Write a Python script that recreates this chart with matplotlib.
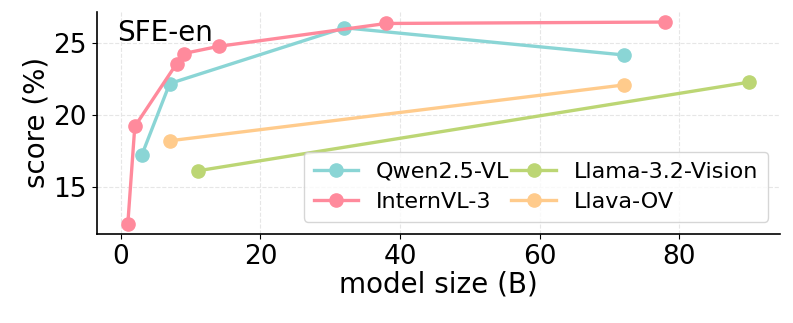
import matplotlib
matplotlib.use('Agg')
import matplotlib.pyplot as plt

# model sizes (B) and SFE-en scores (%)
qwen_size = [3, 7, 32, 72]
qwen_score = [17.2, 22.2, 26.1, 24.2]

intern_size = [1, 2, 8, 9, 14, 38, 78]
intern_score = [12.4, 19.2, 23.6, 24.3, 24.8, 26.4, 26.5]

llama_size = [11, 90]
llama_score = [16.1, 22.3]

llava_size = [7, 72]
llava_score = [18.2, 22.1]

fig = plt.figure(figsize=(7.93, 3.23), dpi=100)
ax = fig.add_axes([0.122, 0.276, 0.862, 0.687])

ax.plot(qwen_size, qwen_score, '-o', color='#8ad5d5', lw=2.4, ms=9.5, label='Qwen2.5-VL')
ax.plot(intern_size, intern_score, '-o', color='#ff8a9c', lw=2.4, ms=9.5, label='InternVL-3')
ax.plot(llama_size, llama_score, '-o', color='#bcd674', lw=2.4, ms=9.5, label='Llama-3.2-Vision')
ax.plot(llava_size, llava_score, '-o', color='#ffcb8c', lw=2.4, ms=9.5, label='Llava-OV')

ax.grid(True, linestyle='--', color='#e6e6e6', lw=0.8)
ax.set_axisbelow(True)
ax.spines['top'].set_visible(False)
ax.spines['right'].set_visible(False)
ax.spines['left'].set_linewidth(1.2)
ax.spines['bottom'].set_linewidth(1.2)

ax.set_xticks([0, 20, 40, 60, 80])
ax.set_yticks([15, 20, 25])
ax.tick_params(labelsize=19)
ax.set_xlabel('model size (B)', fontsize=20, labelpad=1)
ax.set_ylabel('score (%)', fontsize=20, labelpad=2)

ax.text(0.03, 0.97, 'SFE-en', transform=ax.transAxes, fontsize=20, va='top', ha='left')

ax.legend(ncol=2, fontsize=16, loc='lower right', columnspacing=0.1,
          handlelength=2, handletextpad=0.8, borderpad=0.45, labelspacing=0.45,
          borderaxespad=0, bbox_to_anchor=(0.982, 0.054))

fig.savefig('out.png', dpi=100)
